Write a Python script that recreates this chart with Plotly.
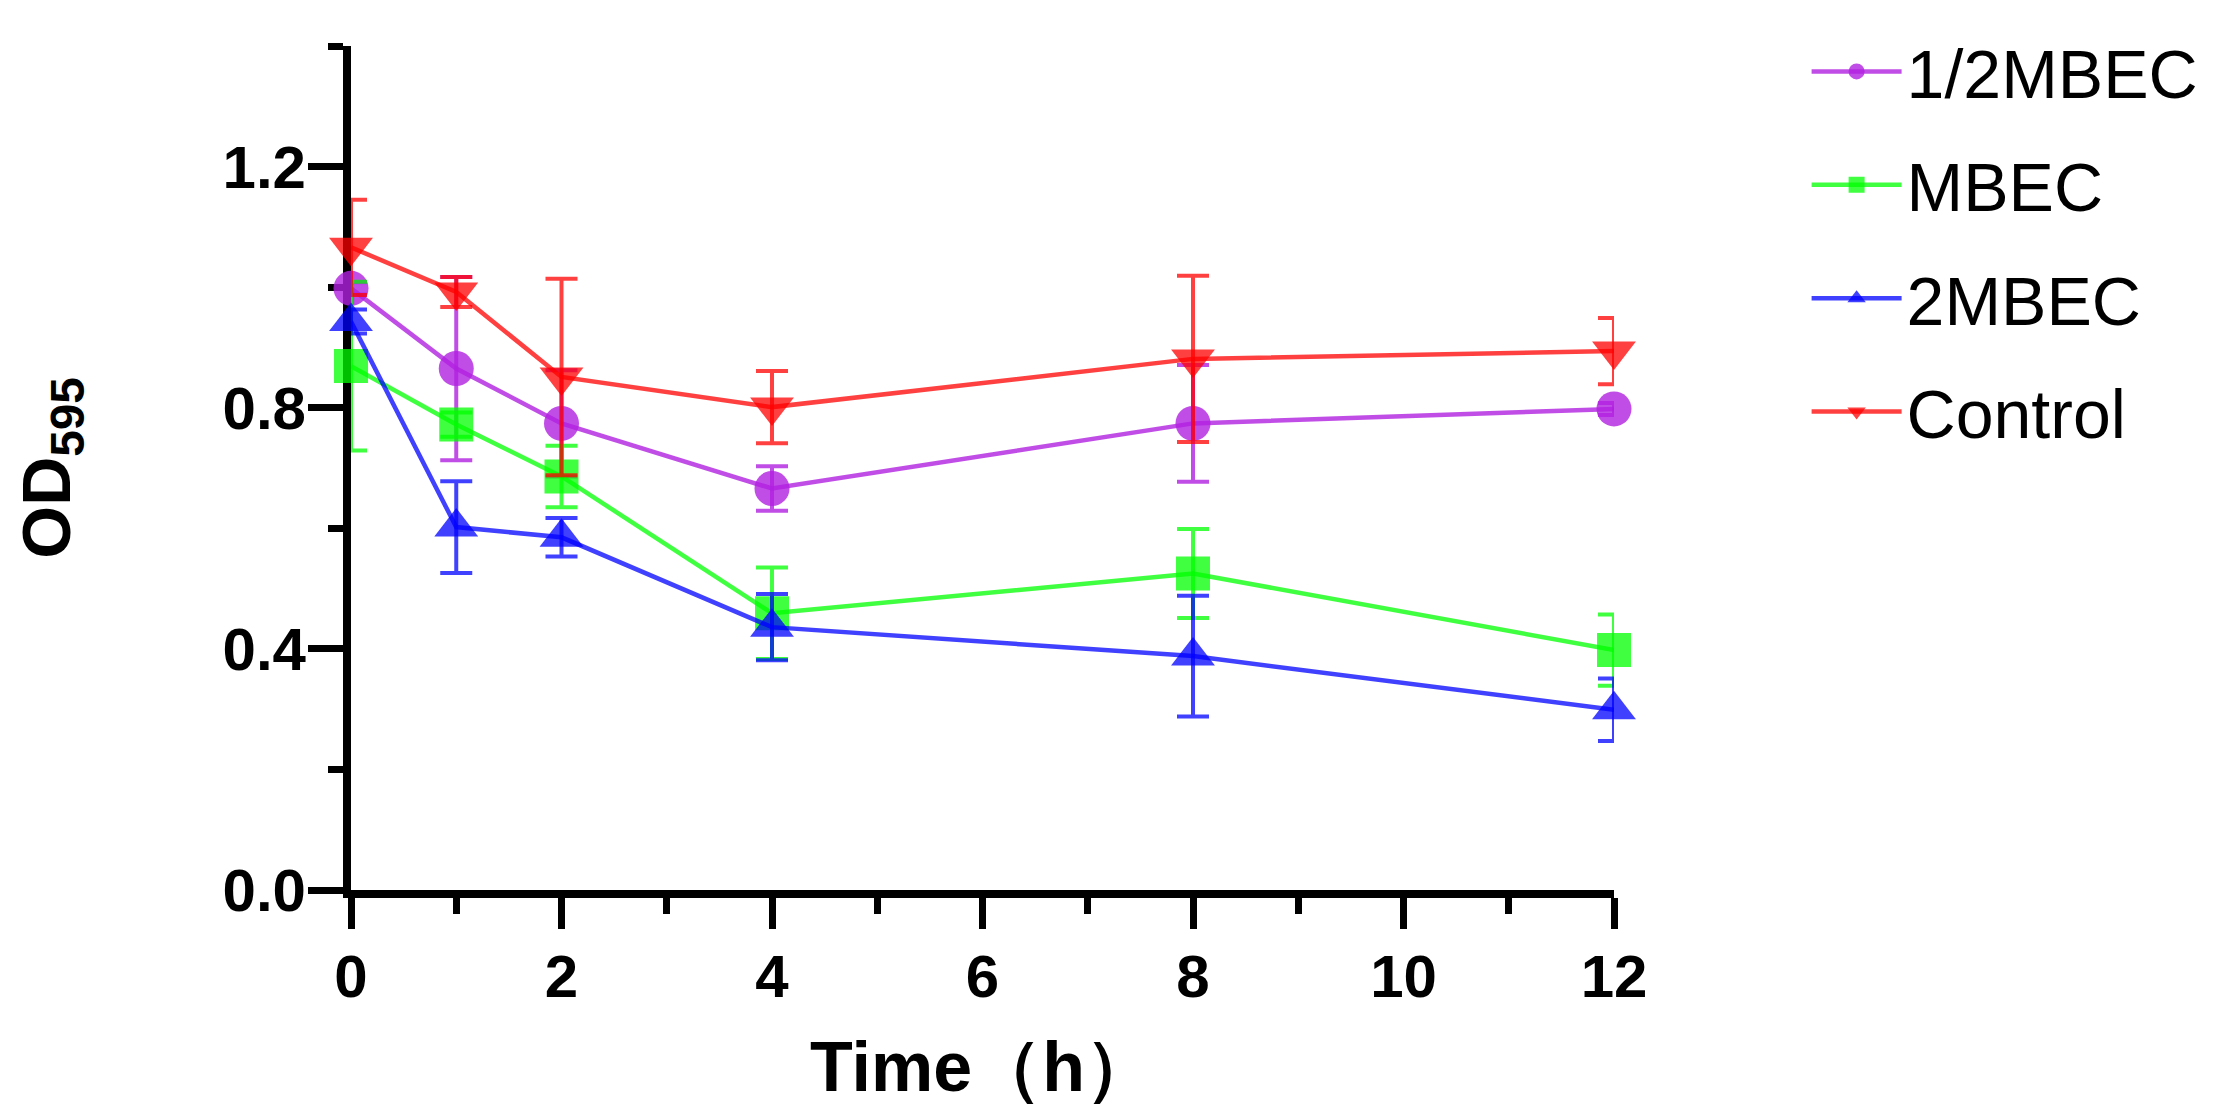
import plotly.graph_objects as go

# Zeitpunkte in Stunden
time_h = [0, 1, 2, 4, 8, 12]

# OD595 Mittelwerte und Fehler
half_mbec = [0.998, 0.865, 0.774, 0.666, 0.774, 0.798]
half_mbec_err = [0.010, 0.152, 0.088, 0.037, 0.097, 0.010]

mbec = [0.869, 0.772, 0.686, 0.459, 0.525, 0.398]
mbec_err = [0.140, 0.020, 0.051, 0.076, 0.074, 0.059]

two_mbec = [0.943, 0.602, 0.585, 0.436, 0.388, 0.299]
two_mbec_err = [0.020, 0.076, 0.032, 0.055, 0.100, 0.052]

control = [1.066, 0.992, 0.851, 0.801, 0.881, 0.894]
control_err = [0.079, 0.025, 0.163, 0.060, 0.138, 0.055]

series = [
    ('1/2MBEC', half_mbec, half_mbec_err, 'circle', 35, 'rgba(176,32,224,0.8)'),
    ('MBEC', mbec, mbec_err, 'square', 34, 'rgba(0,255,0,0.75)'),
    ('2MBEC', two_mbec, two_mbec_err, 'triangle-up', 38, 'rgba(0,0,255,0.75)'),
    ('Control', control, control_err, 'triangle-down', 38, 'rgba(255,0,0,0.75)'),
]

FONT = 'Arial, Liberation Sans, sans-serif'

fig = go.Figure()
for i, (name, y, err, symbol, size, color) in enumerate(series):
    fig.add_trace(go.Scatter(
        x=time_h, y=y, name=name, mode='lines+markers',
        legendgroup=str(i),
        line=dict(color=color, width=4.5),
        marker=dict(symbol=symbol, size=size, color=color),
        error_y=dict(type='data', array=err, visible=True,
                     color=color, thickness=4, width=16),
        cliponaxis=False,
    ))

fig.update_layout(
    width=2214, height=1119,
    margin=dict(l=343, r=608, t=38, b=237, autoexpand=False),
    plot_bgcolor='white', paper_bgcolor='white',
    font=dict(family=FONT, color='black'),
    legend=dict(x=1.1525, y=1.03, xanchor='left', yanchor='top',
                font=dict(size=68), tracegroupgap=22,
                itemsizing='trace', itemwidth=90),
)

fig.update_xaxes(
    range=[0, 12], tickmode='linear', tick0=0, dtick=2,
    showgrid=False, zeroline=False, automargin=False,
    showline=True, linewidth=8, linecolor='black', layer='below traces',
    ticks='outside', ticklen=31, tickwidth=7, tickcolor='black',
    tickfont=dict(size=60, weight='bold'), ticklabelstandoff=-4,
    minor=dict(dtick=1, ticks='outside', ticklen=16, tickwidth=7, tickcolor='black'),
    title=dict(text='Time（h）', font=dict(size=70, weight='bold'), standoff=36),
)

fig.update_yaxes(
    range=[0, 1.4], tickmode='linear', tick0=0, dtick=0.4, tickformat='.1f',
    showgrid=False, zeroline=False, automargin=False,
    showline=True, linewidth=8, linecolor='black', layer='below traces',
    ticks='outside', ticklen=35, tickwidth=7, tickcolor='black',
    tickfont=dict(size=60, weight='bold'), ticklabelstandoff=-10,
    minor=dict(dtick=0.2, ticks='outside', ticklen=15, tickwidth=7, tickcolor='black'),
    title=dict(text='OD<sub>595</sub>', font=dict(size=68, weight='bold'), standoff=134),
)

fig.write_html('out.html')
